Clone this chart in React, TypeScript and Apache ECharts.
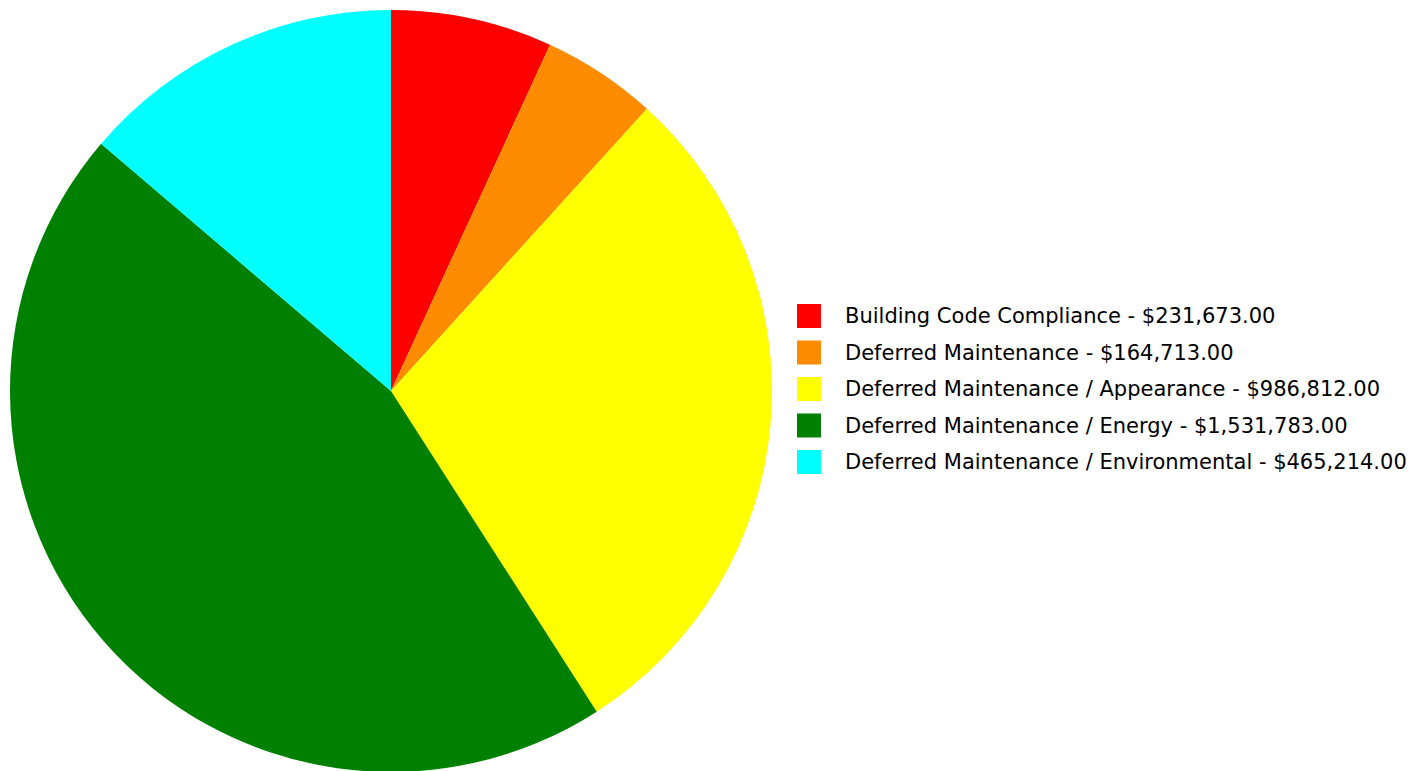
import React, { useEffect, useRef } from "react";
import * as echarts from "echarts";

const categories = [
  "Building Code Compliance",
  "Deferred Maintenance",
  "Deferred Maintenance / Appearance",
  "Deferred Maintenance / Energy",
  "Deferred Maintenance / Environmental",
];
const values = [231673, 164713, 986812, 1531783, 465214];
const colors = ["#FF0000", "#FF8C00", "#FFFF00", "#008000", "#00FFFF"];

const fmt = (v: number) =>
  "$" + v.toLocaleString("en-US", { minimumFractionDigits: 2, maximumFractionDigits: 2 });

export default function App() {
  const ref = useRef<HTMLDivElement>(null);
  useEffect(() => {
    document.body.style.margin = "0";
    const chart = echarts.init(ref.current!, undefined, { renderer: "svg" });
    const valueMap: Record<string, number> = {};
    categories.forEach((c, i) => (valueMap[c] = values[i]));
    chart.setOption({
      animation: false,
      backgroundColor: "#ffffff",
      legend: {
        orient: "vertical",
        left: 797,
        top: 304,
        padding: 0,
        itemWidth: 24,
        itemHeight: 24,
        itemGap: 12.5,
        icon: "rect",
        textStyle: {
          fontFamily: "DejaVu Sans",
          fontSize: 21,
          color: "#000000",
          padding: [6, 0, 0, 19],
        },
        formatter: (name: string) => name + " - " + fmt(valueMap[name]),
        data: categories,
      },
      series: [
        {
          type: "pie",
          center: [391, 391],
          radius: [0, 381],
          startAngle: 90,
          clockwise: true,
          label: { show: false },
          labelLine: { show: false },
          emphasis: { disabled: true },
          itemStyle: { borderWidth: 0 },
          data: categories.map((c, i) => ({
            name: c,
            value: values[i],
            itemStyle: { color: colors[i] },
          })),
        },
      ],
    });
    return () => chart.dispose();
  }, []);
  return <div ref={ref} style={{ width: 1414, height: 771 }} />;
}
